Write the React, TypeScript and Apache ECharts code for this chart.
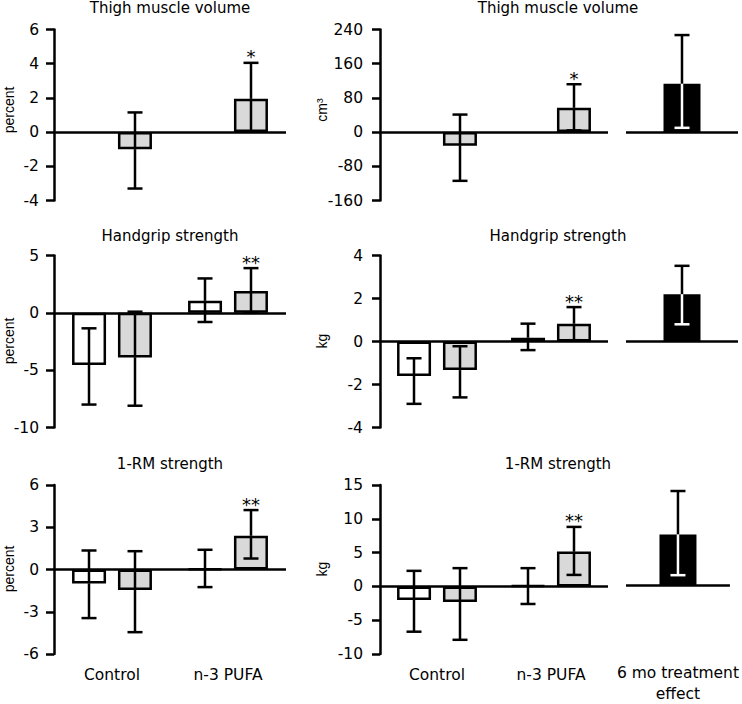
import React, { useEffect, useRef } from "react";
import * as echarts from "echarts";

// ---------- categories & labels ----------
const categories = ["Control", "n-3 PUFA"];
const effectCategory = ["6 mo treatment\neffect"];
const panelTitles = ["Thigh muscle volume", "Handgrip strength", "1-RM strength"];
const leftAxisNames = ["percent", "percent", "percent"];
const midAxisNames = ["cm³", "kg", "kg"];

// ---------- y-axis ticks ----------
const leftYMin = [-4, -10, -6];
const leftYMax = [6, 5, 6];
const leftYStep = [2, 5, 3];
const midYMin = [-160, -4, -10];
const midYMax = [240, 4, 15];
const midYStep = [80, 2, 5];

// ---------- Row 1: thigh muscle volume ----------
const thighPctWhiteMean = [null, null];
const thighPctWhiteLow = [null, null];
const thighPctWhiteHigh = [null, null];
const thighPctGrayMean = [-1.0, 1.95];
const thighPctGrayLow = [-3.3, 0.05];
const thighPctGrayHigh = [1.15, 4.05];
const thighStars = ["", "*"];

const thighCm3WhiteMean = [null, null];
const thighCm3WhiteLow = [null, null];
const thighCm3WhiteHigh = [null, null];
const thighCm3GrayMean = [-32, 57];
const thighCm3GrayLow = [-114, 4];
const thighCm3GrayHigh = [41, 112];
const thighEffectMean = [113];
const thighEffectLow = [10];
const thighEffectHigh = [227];

// ---------- Row 2: handgrip strength ----------
const gripPctWhiteMean = [-4.55, 1.05];
const gripPctWhiteLow = [-8.0, -0.8];
const gripPctWhiteHigh = [-1.35, 3.0];
const gripPctGrayMean = [-3.9, 1.9];
const gripPctGrayLow = [-8.1, 0.0];
const gripPctGrayHigh = [0.1, 3.9];
const gripStars = ["", "**"];

const gripKgWhiteMean = [-1.6, 0.18];
const gripKgWhiteLow = [-2.9, -0.4];
const gripKgWhiteHigh = [-0.78, 0.83];
const gripKgGrayMean = [-1.33, 0.83];
const gripKgGrayLow = [-2.6, 0.06];
const gripKgGrayHigh = [-0.22, 1.6];
const gripEffectMean = [2.2];
const gripEffectLow = [0.8];
const gripEffectHigh = [3.52];

// ---------- Row 3: 1-RM strength ----------
const rmPctWhiteMean = [-1.0, 0.05];
const rmPctWhiteLow = [-3.45, -1.25];
const rmPctWhiteHigh = [1.35, 1.4];
const rmPctGrayMean = [-1.45, 2.4];
const rmPctGrayLow = [-4.45, 0.78];
const rmPctGrayHigh = [1.3, 4.22];
const rmStars = ["", "**"];

const rmKgWhiteMean = [-2.0, 0.15];
const rmKgWhiteLow = [-6.7, -2.6];
const rmKgWhiteHigh = [2.3, 2.7];
const rmKgGrayMean = [-2.3, 5.15];
const rmKgGrayLow = [-7.9, 1.7];
const rmKgGrayHigh = [2.7, 8.8];
const rmEffectMean = [7.6];
const rmEffectLow = [1.5];
const rmEffectHigh = [14.1];

// ---------- layout / style ----------
const FONT = "DejaVu Sans";
const NAME_FONT = "Liberation Sans";
const LW = 2.5;
const BAR_W = 34;
const OFFSET = 23;
const CAP = 15;
const rowTops = [29.5, 255.5, 485];
const rowHeights = [171, 172, 169];
const cols = [
  { left: 54, width: 232 },
  { left: 380, width: 228 },
  { left: 626, width: 112 },
];
const titleTops = [0, 228, 456];
const titleCenters = [170, 558];
const nameX = [9, 322];
const nameY = [110, 341, 569];

type Arr = (number | null)[];
type Panel = {
  wm: Arr; wl: Arr; wh: Arr;
  gm: Arr; gl: Arr; gh: Arr;
  stars: string[];
};

const leftPanels: Panel[] = [
  { wm: thighPctWhiteMean, wl: thighPctWhiteLow, wh: thighPctWhiteHigh, gm: thighPctGrayMean, gl: thighPctGrayLow, gh: thighPctGrayHigh, stars: thighStars },
  { wm: gripPctWhiteMean, wl: gripPctWhiteLow, wh: gripPctWhiteHigh, gm: gripPctGrayMean, gl: gripPctGrayLow, gh: gripPctGrayHigh, stars: gripStars },
  { wm: rmPctWhiteMean, wl: rmPctWhiteLow, wh: rmPctWhiteHigh, gm: rmPctGrayMean, gl: rmPctGrayLow, gh: rmPctGrayHigh, stars: rmStars },
];
const midPanels: Panel[] = [
  { wm: thighCm3WhiteMean, wl: thighCm3WhiteLow, wh: thighCm3WhiteHigh, gm: thighCm3GrayMean, gl: thighCm3GrayLow, gh: thighCm3GrayHigh, stars: thighStars },
  { wm: gripKgWhiteMean, wl: gripKgWhiteLow, wh: gripKgWhiteHigh, gm: gripKgGrayMean, gl: gripKgGrayLow, gh: gripKgGrayHigh, stars: gripStars },
  { wm: rmKgWhiteMean, wl: rmKgWhiteLow, wh: rmKgWhiteHigh, gm: rmKgGrayMean, gl: rmKgGrayLow, gh: rmKgGrayHigh, stars: rmStars },
];
const effects = [
  { m: thighEffectMean, l: thighEffectLow, h: thighEffectHigh },
  { m: gripEffectMean, l: gripEffectLow, h: gripEffectHigh },
  { m: rmEffectMean, l: rmEffectLow, h: rmEffectHigh },
];

type Item = { value: number[]; star: string };

function errorItems(mean: Arr, low: Arr, high: Arr, slot: number, stars?: string[]): Item[] {
  const out: Item[] = [];
  mean.forEach((m, i) => {
    if (m === null || low[i] === null || high[i] === null) return;
    out.push({ value: [i, low[i] as number, high[i] as number, m, slot], star: stars ? stars[i] : "" });
  });
  return out;
}

const seg = (x1: number, y1: number, x2: number, y2: number, color: string) => ({
  type: "line",
  shape: { x1, y1, x2, y2 },
  style: { stroke: color, lineWidth: LW, lineCap: "butt" },
});

const makeRender = (items: Item[]) => (params: any, api: any) => {
  const it = items[params.dataIndex];
  const [i, low, high, mean, slot] = it.value;
  const off = slot === 0 ? -OFFSET : slot === 1 ? OFFSET : 0;
  const pm = api.coord([i, mean]);
  const pl = api.coord([i, low]);
  const ph = api.coord([i, high]);
  const x = pm[0] + off;
  const lowColor = slot === 2 ? "#fff" : "#000";
  const children: any[] = [
    seg(x, pm[1], x, ph[1], "#000"),
    seg(x - CAP / 2, ph[1], x + CAP / 2, ph[1], "#000"),
    seg(x, pm[1], x, pl[1], lowColor),
    seg(x - CAP / 2, pl[1], x + CAP / 2, pl[1], lowColor),
  ];
  if (it.star) {
    children.push({
      type: "text",
      x,
      y: ph[1] + 3,
      style: {
        text: it.star,
        align: "center",
        verticalAlign: "bottom",
        fontFamily: FONT,
        fontSize: 18,
        fill: "#000",
      },
    });
  }
  return { type: "group", children };
};

const zeroLine = {
  silent: true,
  symbol: ["none", "none"],
  label: { show: false },
  lineStyle: { color: "#000", width: LW, type: "solid" },
  emphasis: { disabled: true },
  data: [{ yAxis: 0 }],
};

function buildOption() {
  const grid: any[] = [];
  const xAxis: any[] = [];
  const yAxis: any[] = [];
  const series: any[] = [];
  const title: any[] = [];
  const graphic: any[] = [];

  for (let r = 0; r < 3; r++) {
    for (let k = 0; k < 2; k++) {
      title.push({
        text: panelTitles[r], left: titleCenters[k], top: titleTops[r], textAlign: "center", padding: 0,
        textStyle: { fontFamily: FONT, fontSize: 15, fontWeight: "normal", color: "#000" },
      });
      graphic.push({
        type: "text",
        x: nameX[k],
        y: nameY[r],
        rotation: Math.PI / 2,
        silent: true,
        style: {
          text: k === 0 ? leftAxisNames[r] : midAxisNames[r],
          fontFamily: NAME_FONT,
          fontSize: 14,
          fill: "#000",
          align: "center",
          verticalAlign: "middle",
        },
      });
    }

    for (let c = 0; c < 3; c++) {
      const gi = r * 3 + c;
      grid.push({ left: cols[c].left, width: cols[c].width, top: rowTops[r], height: rowHeights[r] });
      xAxis.push({
        type: "category",
        gridIndex: gi,
        data: c < 2 ? categories : effectCategory,
        axisLine: { show: false },
        axisTick: { show: false },
        splitLine: { show: false },
        axisLabel: {
          show: r === 2,
          interval: 0,
          margin: 10,
          fontFamily: FONT,
          fontSize: 15.5,
          lineHeight: 21,
          color: "#000",
        },
      });
      const isLeft = c === 0;
      yAxis.push({
        type: "value",
        gridIndex: gi,
        show: c < 2,
        min: isLeft ? leftYMin[r] : midYMin[r],
        max: isLeft ? leftYMax[r] : midYMax[r],
        interval: isLeft ? leftYStep[r] : midYStep[r],
        splitLine: { show: false },
        axisLine: { show: true, onZero: false, lineStyle: { color: "#000", width: LW } },
        axisTick: { show: true, length: 8, lineStyle: { color: "#000", width: LW } },
        axisLabel: { fontFamily: FONT, fontSize: 15.5, color: "#000", margin: isLeft ? 15 : 17 },
      });

      if (c < 2) {
        const p = c === 0 ? leftPanels[r] : midPanels[r];
        series.push({
          type: "bar",
          name: "white",
          xAxisIndex: gi,
          yAxisIndex: gi,
          data: p.wm.map((v) => (v === null ? "-" : v)),
          barWidth: BAR_W,
          barGap: "35%",
          itemStyle: { color: "#fff", borderColor: "#000", borderWidth: LW },
          emphasis: { disabled: true },
          markLine: zeroLine,
          z: 2,
        });
        series.push({
          type: "bar",
          name: "gray",
          xAxisIndex: gi,
          yAxisIndex: gi,
          data: p.gm.map((v) => (v === null ? "-" : v)),
          barWidth: BAR_W,
          barGap: "35%",
          itemStyle: { color: "#d9d9d9", borderColor: "#000", borderWidth: LW },
          emphasis: { disabled: true },
          z: 2,
        });
        const items = [
          ...errorItems(p.wm, p.wl, p.wh, 0),
          ...errorItems(p.gm, p.gl, p.gh, 1, p.stars),
        ];
        series.push({
          type: "custom",
          xAxisIndex: gi,
          yAxisIndex: gi,
          data: items.map((d) => d.value),
          encode: { x: 0, y: 1 },
          renderItem: makeRender(items),
          clip: false,
          silent: true,
          z: 4,
        });
      } else {
        const e = effects[r];
        series.push({
          type: "bar",
          name: "effect",
          xAxisIndex: gi,
          yAxisIndex: gi,
          data: e.m,
          barWidth: 37,
          itemStyle: { color: "#000" },
          emphasis: { disabled: true },
          markLine: zeroLine,
          z: 2,
        });
        const items = errorItems(e.m, e.l, e.h, 2);
        series.push({
          type: "custom",
          xAxisIndex: gi,
          yAxisIndex: gi,
          data: items.map((d) => d.value),
          encode: { x: 0, y: 1 },
          renderItem: makeRender(items),
          clip: false,
          silent: true,
          z: 4,
        });
      }
    }
  }

  return {
    animation: false,
    backgroundColor: "#fff",
    title,
    graphic,
    grid,
    xAxis,
    yAxis,
    series,
  };
}

export default function App() {
  const ref = useRef<HTMLDivElement>(null);
  useEffect(() => {
    if (!ref.current) return;
    const chart = echarts.init(ref.current, undefined, { renderer: "svg" });
    chart.setOption(buildOption() as any);
    return () => chart.dispose();
  }, []);
  return (
    <div
      ref={ref}
      style={{ position: "absolute", left: 0, top: 0, width: 742, height: 704, background: "#fff" }}
    />
  );
}
